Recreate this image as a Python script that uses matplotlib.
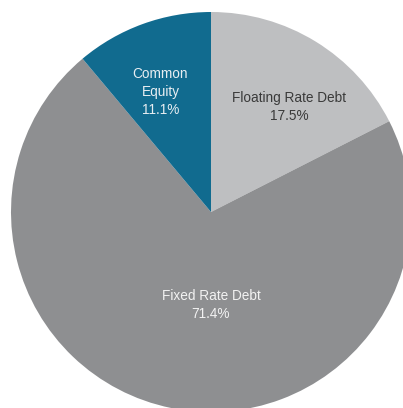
import matplotlib
matplotlib.use("Agg")
import matplotlib.pyplot as plt
import numpy as np

labels = ["Floating Rate Debt", "Fixed Rate Debt", "Common\nEquity"]
values = [17.5, 71.4, 11.1]
colors = ["#bebfc1", "#8e8f91", "#116b8f"]
text_colors = ["#3a3a3a", "#f2f2f2", "#e8eef2"]
# label placement (radial fraction, angle offset in degrees)
label_r = [0.655, 0.465, 0.65]
label_off = [-5.3, 11.5, 2.9]

W, H = 403, 408
fig = plt.figure(figsize=(W / 100, H / 100), dpi=100)
cx, cy, R = 211, 212, 200
ax = fig.add_axes([(cx - R) / W, (H - cy - R) / H, 2 * R / W, 2 * R / H])
wedges, _ = ax.pie(values, colors=colors, startangle=90, counterclock=False,
                   radius=1, wedgeprops=dict(linewidth=0))
ax.set_xlim(-1, 1)
ax.set_ylim(-1, 1)
ax.set_aspect("auto")
ax.axis("off")

for w, lab, v, r, off, tc in zip(wedges, labels, values, label_r, label_off, text_colors):
    mid = np.deg2rad((w.theta1 + w.theta2) / 2 + off)
    ax.text(r * np.cos(mid), r * np.sin(mid), f"{lab}\n{v:.1f}%",
            ha="center", va="center", fontsize=9.8, color=tc,
            family="Liberation Sans", linespacing=1.35)

fig.savefig("out.png", dpi=100)
